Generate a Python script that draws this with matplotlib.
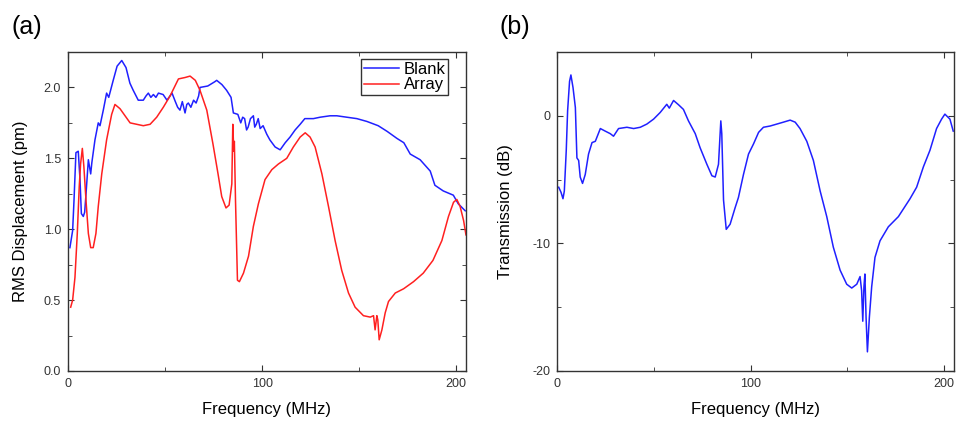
import numpy as np
import matplotlib
matplotlib.use("Agg")
import matplotlib.pyplot as plt
from matplotlib.ticker import MultipleLocator

plt.rcParams['font.family'] = ['Liberation Sans', 'DejaVu Sans']
plt.rcParams['axes.unicode_minus'] = False

# (a) RMS displacement, blank membrane
blank_f = [1, 2.4, 3.1, 4.1, 5.3, 6.2, 6.9, 7.9, 8.6, 9.3, 10.5, 11.7, 12.3, 13.9, 15.6, 16.5,
           18.2, 19.9, 21.0, 23.3, 25.3, 27.7, 29.9, 31.9, 33.6, 36.2, 38.8, 40.2, 41.4, 42.7,
           44, 45.3, 46.6, 49, 51, 53.6, 55.3, 56.5, 57.7, 58.9, 60.3, 61.2, 62, 63.3, 64.7,
           66, 67.3, 68, 72, 75.6, 76.6, 79.3, 81.7, 84, 85.2, 87.5, 89, 90, 91, 92, 92.8,
           94, 95.5, 96.2, 97, 98, 99, 100.5, 102.4, 104, 106.7, 109.3, 111.9, 114.4, 117,
           119.6, 122, 126.4, 129.9, 135, 138.5, 143.6, 148.8, 154, 159.8, 164.4, 169.5,
           173, 176.3, 181.4, 186.6, 189, 193.3, 198.5, 201, 204.6]
blank_v = [0.87, 0.99, 1.20, 1.54, 1.55, 1.35, 1.11, 1.09, 1.12, 1.25, 1.49, 1.39, 1.47, 1.63,
           1.75, 1.73, 1.84, 1.96, 1.93, 2.05, 2.15, 2.19, 2.14, 2.03, 1.98, 1.91, 1.91, 1.94,
           1.96, 1.93, 1.95, 1.93, 1.96, 1.95, 1.91, 1.96, 1.90, 1.86, 1.84, 1.90, 1.82, 1.88,
           1.89, 1.86, 1.91, 1.89, 1.94, 2.0, 2.01, 2.04, 2.05, 2.02, 1.98, 1.93, 1.82, 1.81,
           1.75, 1.79, 1.78, 1.70, 1.72, 1.78, 1.80, 1.72, 1.74, 1.78, 1.71, 1.73, 1.67, 1.63,
           1.58, 1.56, 1.61, 1.65, 1.70, 1.74, 1.78, 1.78, 1.79, 1.80, 1.80, 1.79, 1.78, 1.76,
           1.73, 1.69, 1.64, 1.61, 1.53, 1.49, 1.41, 1.31, 1.27, 1.24, 1.18, 1.13]

# (a) RMS displacement, phononic array
array_f = [1.4, 2.4, 3.6, 4.8, 5.8, 6.5, 7.4, 8.2, 9.3, 10.5, 11.7, 13, 14.4, 15.6, 17.4,
           19.9, 22.5, 24.2, 26.8, 29.4, 32, 35.4, 38.8, 42.3, 45.7, 49.1, 52.6, 56.9, 60.3,
           62.9, 65.6, 68, 71.5, 74.7, 77.3, 79.2, 81.4, 83, 84.4, 84.9, 85.4, 85.7, 86.3,
           87.3, 88.3, 90.4, 93, 95.5, 98.1, 101.5, 105, 108.4, 112.7, 116.1, 119.6, 122.2,
           124.7, 127.3, 130.8, 134.2, 137.6, 141, 144.5, 147.9, 152.2, 155.7, 157.4, 158.2,
           159.1, 159.6, 160.3, 161.7, 163.4, 165.1, 168.6, 172.9, 178, 183, 188, 192.6, 196,
           198.6, 200.3, 202, 203.8, 205]
array_v = [0.45, 0.50, 0.66, 0.97, 1.30, 1.46, 1.57, 1.44, 1.20, 0.97, 0.87, 0.87, 0.97, 1.16,
           1.39, 1.63, 1.81, 1.88, 1.85, 1.80, 1.75, 1.74, 1.73, 1.74, 1.79, 1.86, 1.94, 2.06,
           2.07, 2.08, 2.05, 1.98, 1.84, 1.60, 1.39, 1.23, 1.15, 1.17, 1.32, 1.74, 1.55, 1.62,
           1.20, 0.64, 0.63, 0.69, 0.81, 1.02, 1.18, 1.35, 1.42, 1.46, 1.50, 1.58, 1.65, 1.68,
           1.65, 1.58, 1.39, 1.16, 0.92, 0.71, 0.55, 0.45, 0.39, 0.38, 0.39, 0.29, 0.39, 0.36,
           0.22, 0.29, 0.41, 0.49, 0.55, 0.58, 0.63, 0.69, 0.78, 0.92, 1.09, 1.19, 1.21, 1.16,
           1.06, 0.96]

# (b) transmission
trans_f = [0.9, 2.1, 3.1, 3.8, 4.8, 5.5, 6.5, 7.2, 8.3, 9.5, 10.3, 11.2, 12, 13.2, 14.6, 16.3,
           18.1, 19.8, 22.4, 24.9, 27.5, 29.2, 31.8, 36.1, 39.6, 43, 46.4, 49.9, 53.3, 56.7,
           58, 60.2, 62.8, 65.3, 67.9, 71.4, 73.9, 77.4, 80, 81.7, 83.4, 84.6, 85.1, 86,
           87.4, 89.4, 92, 93.7, 96.3, 98.9, 101.5, 104.1, 106.6, 110.1, 113.5, 116.9, 120.4,
           123, 125.5, 129, 132.4, 135.9, 139.3, 142.7, 146.2, 149.6, 152.2, 154.8, 156.5,
           157.3, 157.9, 158.5, 159, 159.6, 160.3, 161.3, 162.5, 164.2, 166.8, 171.1, 176.3,
           182.3, 185.7, 189.2, 192.6, 196, 198.6, 200.3, 202.9, 204.6]
trans_v = [-5.6, -6.0, -6.5, -5.9, -2.7, 0.4, 2.7, 3.2, 2.2, 0.65, -3.3, -3.5, -4.8, -5.3,
           -4.6, -3.0, -2.1, -2.0, -1.0, -1.2, -1.4, -1.6, -1.0, -0.9, -1.0, -0.9, -0.65,
           -0.26, 0.26, 0.9, 0.6, 1.2, 0.86, 0.5, -0.4, -1.4, -2.5, -3.8, -4.7, -4.8, -3.8,
           -0.4, -1.4, -6.6, -8.9, -8.5, -7.2, -6.4, -4.6, -3.0, -2.2, -1.3, -0.9, -0.8,
           -0.65, -0.5, -0.34, -0.5, -1.0, -2.0, -3.5, -5.9, -7.9, -10.3, -12.1, -13.2, -13.5,
           -13.2, -12.6, -13.7, -16.1, -13.4, -12.4, -15.8, -18.5, -15.8, -13.4, -11.1, -9.8,
           -8.7, -7.9, -6.5, -5.6, -4.0, -2.7, -1.0, -0.26, 0.13, -0.26, -1.2]

fig = plt.figure(figsize=(9.56, 4.22), dpi=100)
ax1 = fig.add_axes([0.0711, 0.1209, 0.4163, 0.7559])
ax2 = fig.add_axes([0.5826, 0.1209, 0.4153, 0.7559])

ax1.plot(blank_f, blank_v, color='#2020ff', lw=1.1, label='Blank')
ax1.plot(array_f, array_v, color='#ff2020', lw=1.1, label='Array')
ax2.plot(trans_f, trans_v, color='#2020ff', lw=1.1)

ax1.set_xlim(0, 205)
ax1.set_ylim(0, 2.25)
ax1.yaxis.set_major_locator(MultipleLocator(0.5))
ax1.yaxis.set_minor_locator(MultipleLocator(0.25))
ax1.yaxis.set_major_formatter(matplotlib.ticker.FormatStrFormatter('%.1f'))
ax1.set_ylabel('RMS Displacement (pm)', fontsize=12, labelpad=11)

ax2.set_xlim(0, 205)
ax2.set_ylim(-20, 5)
ax2.yaxis.set_major_locator(MultipleLocator(10))
ax2.yaxis.set_minor_locator(MultipleLocator(5))
ax2.set_ylabel('Transmission (dB)', fontsize=12, labelpad=14)

for ax in (ax1, ax2):
    ax.xaxis.set_major_locator(MultipleLocator(100))
    ax.xaxis.set_minor_locator(MultipleLocator(50))
    ax.set_xlabel('Frequency (MHz)', fontsize=12, labelpad=9)
    ax.tick_params(which='both', direction='in', top=True, right=True,
                   labelsize=9, labelcolor='#333333', color='#333333')
    ax.tick_params(which='major', length=4, pad=5)
    ax.tick_params(which='minor', length=3)
    for s in ax.spines.values():
        s.set_color('#333333')
        s.set_linewidth(1.0)

leg = ax1.legend(loc='upper right', bbox_to_anchor=(0.955, 0.978), fontsize=12,
                 frameon=True, fancybox=False, handlelength=2.1, handletextpad=0.3,
                 borderpad=0.15, labelspacing=0.05, borderaxespad=0.0)
leg.get_frame().set_edgecolor('black')
leg.get_frame().set_linewidth(1.0)

fig.text(0.012, 0.935, '(a)', fontsize=18, va='center', ha='left')
fig.text(0.522, 0.935, '(b)', fontsize=18, va='center', ha='left')

fig.savefig('out.png', dpi=100)
